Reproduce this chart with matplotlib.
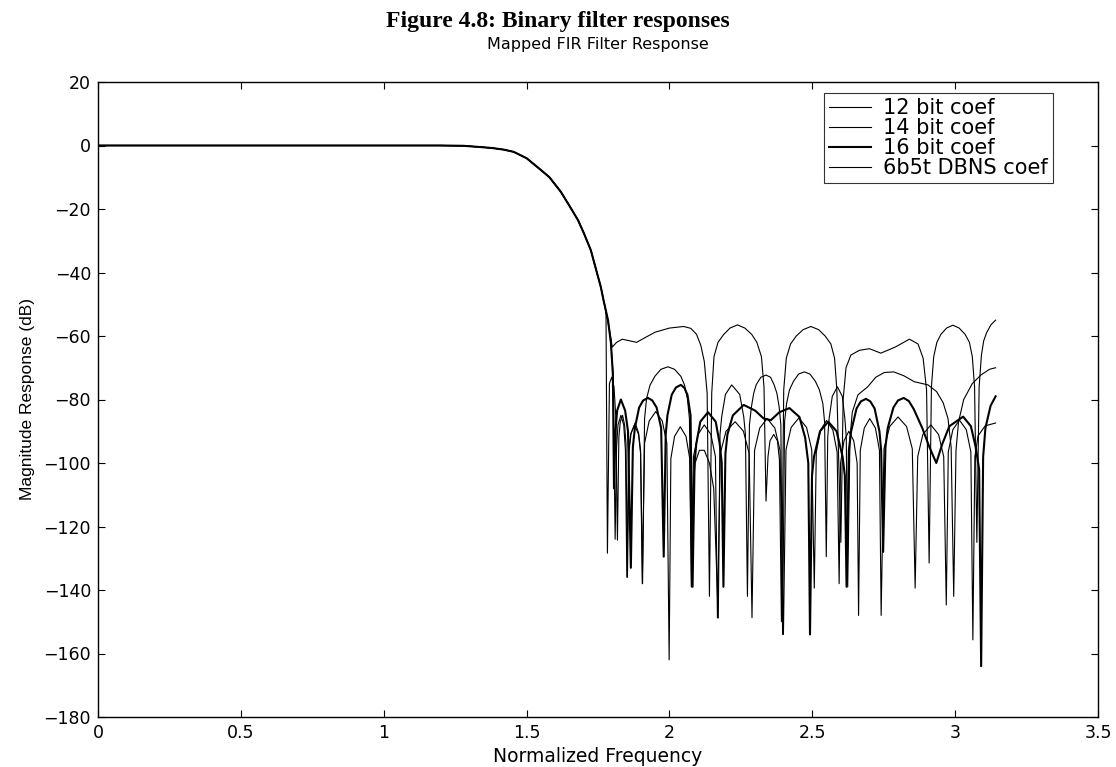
import matplotlib
matplotlib.use("Agg")
import matplotlib.pyplot as plt

# passband + transition band, identical for every coefficient set
pass_f = [0, 0.25, 0.5, 0.75, 1.0, 1.2, 1.28, 1.31, 1.34, 1.38, 1.42, 1.455, 1.50,
          1.55, 1.58, 1.62, 1.65, 1.68, 1.70, 1.725, 1.74, 1.76, 1.77, 1.775]
pass_db = [0, 0, 0, 0, 0, 0, -0.1, -0.3, -0.5, -0.8, -1.3, -2.0, -4.0,
           -7.7, -10, -14.6, -19, -23.5, -27.5, -33, -38, -44.6, -49, -51]

# stopband points (frequency, dB) for each coefficient set
stop_12bit = [
    (1.790, -58), (1.800, -63.5), (1.815, -62), (1.835, -61), (1.860, -61.5), (1.885, -62),
    (1.915, -60.5), (1.950, -58.8), (2.000, -57.5), (2.050, -57), (2.075, -57.6),
    (2.095, -59.5), (2.110, -63), (2.122, -68), (2.132, -78), (2.140, -142),
    (2.148, -78), (2.156, -66.5), (2.170, -62), (2.190, -59.5), (2.212, -57.5),
    (2.238, -56.5), (2.264, -57.5), (2.288, -59.5), (2.306, -62), (2.322, -66.5),
    (2.331, -76), (2.338, -112), (2.345, -98), (2.352, -93), (2.365, -91), (2.378, -93),
    (2.385, -99), (2.392, -150), (2.400, -77), (2.409, -67), (2.424, -62.5), (2.444, -60),
    (2.468, -58), (2.495, -57), (2.522, -58), (2.545, -60), (2.565, -62.5), (2.578, -67),
    (2.586, -77), (2.600, -125), (2.608, -80), (2.618, -70), (2.635, -66), (2.665, -64.5),
    (2.700, -64), (2.740, -65.4), (2.790, -63.5), (2.840, -61), (2.870, -62.5),
    (2.888, -67), (2.900, -77), (2.909, -131.5), (2.917, -76), (2.925, -66.5),
    (2.936, -62), (2.950, -59.5), (2.970, -57.5), (2.992, -56.6), (3.014, -57.5),
    (3.035, -59.5), (3.050, -62), (3.060, -66.5), (3.068, -76), (3.076, -125),
    (3.084, -76), (3.092, -66), (3.100, -61.5), (3.110, -59), (3.125, -56.5), (3.1416, -55),
]
stop_14bit = [
    (1.785, -55), (1.795, -62), (1.803, -72), (1.810, -124), (1.815, -95), (1.820, -88),
    (1.830, -85), (1.840, -88), (1.846, -96), (1.851, -136), (1.857, -97), (1.864, -91),
    (1.878, -88), (1.892, -91), (1.899, -97), (1.906, -138), (1.913, -86), (1.920, -79.7),
    (1.932, -75.5), (1.949, -72.7), (1.970, -70.5), (1.995, -69.7), (2.018, -70.5),
    (2.040, -72.7), (2.053, -75.5), (2.063, -79.7), (2.070, -86), (2.077, -139),
    (2.083, -108), (2.090, -100), (2.105, -96), (2.122, -96), (2.140, -100), (2.155, -108),
    (2.171, -148.8), (2.177, -91), (2.183, -85.4), (2.196, -78.4), (2.218, -75.4),
    (2.246, -78.4), (2.260, -85.4), (2.266, -91), (2.273, -142), (2.280, -88),
    (2.287, -82.3), (2.295, -78), (2.304, -75.3), (2.320, -73), (2.338, -72.3),
    (2.354, -73), (2.366, -75.3), (2.376, -78), (2.384, -82.3), (2.390, -88), (2.396, -154),
    (2.403, -87), (2.410, -81.3), (2.420, -77), (2.434, -74.3), (2.452, -72), (2.472, -71.3),
    (2.492, -72), (2.511, -74.3), (2.525, -77), (2.537, -81.3), (2.543, -87),
    (2.549, -129.5), (2.554, -92), (2.559, -86), (2.570, -79), (2.588, -76), (2.605, -79),
    (2.614, -86), (2.619, -92), (2.624, -139), (2.632, -92), (2.640, -84), (2.660, -78.5),
    (2.694, -76), (2.722, -73), (2.752, -71.5), (2.785, -71.3), (2.820, -72.5),
    (2.857, -74.4), (2.905, -75.4), (2.935, -77.5), (2.958, -81), (2.975, -86), (2.986, -95),
    (2.995, -142), (3.003, -96), (3.012, -87), (3.030, -80), (3.060, -75), (3.090, -72.3),
    (3.120, -70.5), (3.1416, -70),
]
stop_16bit = [
    (1.785, -55), (1.795, -62), (1.802, -72), (1.806, -108), (1.811, -90), (1.817, -83.5),
    (1.830, -80), (1.845, -83.5), (1.855, -90), (1.865, -133), (1.872, -95), (1.879, -89),
    (1.894, -82.5), (1.908, -80.3), (1.925, -79.5), (1.940, -80.3), (1.955, -82.5),
    (1.971, -89), (1.980, -129.5), (1.987, -91), (1.993, -85), (2.008, -78.5),
    (2.023, -76.2), (2.040, -75.4), (2.052, -76.3), (2.063, -78.5), (2.074, -85),
    (2.081, -139), (2.088, -100), (2.094, -94), (2.108, -87), (2.135, -84), (2.162, -87),
    (2.176, -94), (2.183, -100), (2.189, -139), (2.196, -97), (2.203, -91), (2.222, -85),
    (2.260, -81.7), (2.300, -83.5), (2.330, -86), (2.355, -86.5), (2.385, -84),
    (2.420, -82.7), (2.455, -85.5), (2.475, -92), (2.486, -100), (2.492, -154),
    (2.499, -104), (2.506, -98), (2.527, -90), (2.556, -87), (2.585, -90), (2.606, -98),
    (2.614, -104), (2.620, -139), (2.628, -96), (2.636, -90), (2.655, -82.8),
    (2.670, -80.6), (2.688, -79.8), (2.703, -80.6), (2.718, -82.8), (2.735, -90),
    (2.741, -96), (2.748, -128), (2.756, -95), (2.764, -89), (2.784, -82.5), (2.800, -80.3),
    (2.820, -79.5), (2.838, -80.5), (2.855, -83), (2.885, -89), (2.910, -95), (2.934, -100),
    (2.955, -94), (2.980, -88.4), (3.028, -85.4), (3.055, -88.4), (3.072, -95),
    (3.084, -102), (3.091, -164), (3.098, -98), (3.106, -89), (3.124, -82), (3.1416, -79),
]
stop_dbns = [
    (1.778, -53), (1.783, -128.4), (1.790, -75), (1.798, -73), (1.806, -76), (1.812, -85),
    (1.818, -124.3), (1.823, -92), (1.828, -87), (1.836, -85), (1.843, -88), (1.848, -94),
    (1.853, -136), (1.859, -96), (1.866, -90.5), (1.880, -87.4), (1.892, -90.5),
    (1.899, -96), (1.905, -138), (1.913, -93.8), (1.929, -86.8), (1.952, -83.8),
    (1.975, -86.8), (1.991, -93.8), (1.999, -162), (2.005, -98.6), (2.018, -91.6),
    (2.038, -88.6), (2.058, -91.6), (2.071, -98.6), (2.077, -139), (2.084, -98),
    (2.100, -91), (2.122, -88), (2.145, -91), (2.161, -98), (2.168, -148.8), (2.178, -97),
    (2.198, -90), (2.230, -87), (2.259, -90), (2.279, -97), (2.289, -148.7), (2.298, -96),
    (2.316, -89), (2.342, -86), (2.369, -89), (2.387, -96), (2.399, -154), (2.408, -95.8),
    (2.426, -88.8), (2.453, -85.8), (2.480, -88.8), (2.498, -95.8), (2.507, -139.4),
    (2.514, -96.6), (2.529, -89.6), (2.550, -86.6), (2.572, -89.6), (2.587, -96.6),
    (2.594, -138), (2.599, -100), (2.611, -93), (2.628, -90), (2.645, -93), (2.657, -100),
    (2.662, -148), (2.668, -96), (2.682, -89), (2.701, -86), (2.721, -89), (2.735, -96),
    (2.741, -148), (2.751, -95.5), (2.771, -88.5), (2.800, -85.5), (2.830, -88.5),
    (2.850, -95.5), (2.860, -139.4), (2.869, -98), (2.887, -91), (2.915, -88), (2.942, -91),
    (2.960, -98), (2.969, -144.7), (2.976, -96.5), (2.992, -89.5), (3.015, -86.5),
    (3.039, -89.5), (3.055, -96.5), (3.062, -155.7), (3.069, -98), (3.080, -91.5),
    (3.105, -88.3), (3.1416, -87.4),
]

labels = ["12 bit coef", "14 bit coef", "16 bit coef", "6b5t DBNS coef"]
x_ticks = [0, 0.5, 1, 1.5, 2, 2.5, 3, 3.5]
y_ticks = [-180, -160, -140, -120, -100, -80, -60, -40, -20, 0, 20]

plt.rcParams["font.family"] = ["DejaVu Sans"]
plt.rcParams["axes.unicode_minus"] = True

fig = plt.figure(figsize=(11.16, 7.67), dpi=100)
ax = fig.add_axes([98 / 1116, 50 / 767, 1000 / 1116, 635 / 767])

curves = [(stop_12bit, 0.8), (stop_14bit, 0.8), (stop_16bit, 1.5), (stop_dbns, 0.8)]
for (pts, lw), lab in zip(curves, labels):
    f, db = zip(*pts)
    ax.plot(pass_f + list(f), pass_db + list(db), color="black", linewidth=lw, label=lab)

ax.set_xlim(0, 3.5)
ax.set_ylim(-180, 20)
ax.set_xticks(x_ticks)
ax.set_xticklabels([f"{t:g}" for t in x_ticks])
ax.set_yticks(y_ticks)
ax.set_yticklabels([f"{t:d}".replace("-", "\u2212") for t in y_ticks])
ax.tick_params(direction="in", length=5, width=0.8, top=True, right=True,
               labelsize=12.5, pad=5)
for sp in ax.spines.values():
    sp.set_linewidth(1.0)

ax.set_xlabel("Normalized Frequency", fontsize=13.5, labelpad=4)
ax.set_ylabel("Magnitude Response (dB)", fontsize=12.5, labelpad=6,
              family="Liberation Sans")
ax.set_title("Mapped FIR Filter Response", fontsize=11.5, pad=24)
fig.text(0.5, 1 - 22 / 767, "Figure 4.8: Binary filter responses", ha="center",
         va="center", fontsize=17, fontweight="bold", family="Liberation Serif")

leg = ax.legend(loc="upper right", bbox_to_anchor=(0.955, 0.983), fontsize=15,
                frameon=True, fancybox=False, edgecolor="black", handlelength=2.0,
                borderpad=0.25, labelspacing=0.0, handletextpad=0.6, borderaxespad=0)
leg.get_frame().set_linewidth(0.8)

fig.savefig("out.png", dpi=100)
